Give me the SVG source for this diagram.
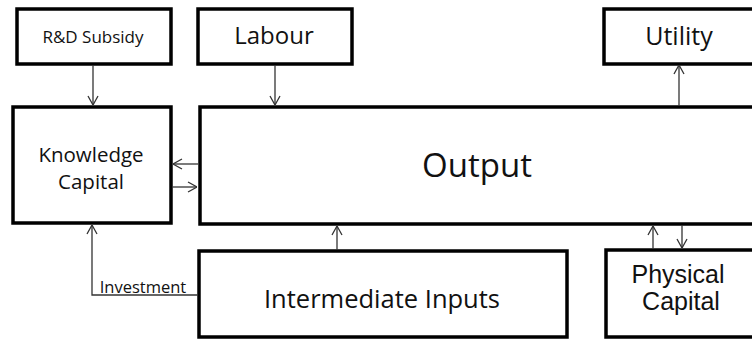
<svg xmlns="http://www.w3.org/2000/svg" width="752" height="340" viewBox="0 0 752 340">
<defs>
<style>
.box{fill:#fff;stroke:#000;stroke-width:3.5}
.t{font-family:"Open Sans","Liberation Sans",sans-serif;fill:#111;text-anchor:middle}
.t2{font-family:"Liberation Sans","Open Sans",sans-serif;fill:#111;text-anchor:middle}
.c{fill:none;stroke:#333;stroke-width:1.3}
</style>
<marker id="ah" viewBox="0 0 10 12" refX="10" refY="6" markerWidth="10" markerHeight="12" markerUnits="userSpaceOnUse" orient="auto">
<path d="M1,1 L10,6 L1,11" fill="none" stroke="#333" stroke-width="1.3"/>
</marker>
</defs>
<rect width="752" height="340" fill="#fff"/>
<g id="rd-subsidy"><rect class="box" x="17" y="9" width="154" height="55"/><text class="t" x="93" y="43" font-size="17">R&amp;D Subsidy</text></g>
<g id="labour"><rect class="box" x="198" y="9" width="154" height="55"/><text class="t" x="274" y="44" font-size="24">Labour</text></g>
<g id="utility"><rect class="box" x="604" y="9" width="160" height="55"/><text class="t" x="679" y="45" font-size="25">Utility</text></g>
<g id="knowledge-capital"><rect class="box" x="13" y="107" width="158" height="116"/><text class="t" font-size="20.5"><tspan x="91" y="162">Knowledge</tspan><tspan x="91" y="189">Capital</tspan></text></g>
<g id="output"><rect class="box" x="200" y="107" width="570" height="117"/><text class="t" x="477" y="177" font-size="33">Output</text></g>
<g id="intermediate-inputs"><rect class="box" x="199" y="251" width="368" height="86"/><text class="t" x="382" y="308" font-size="25.5">Intermediate Inputs</text></g>
<g id="physical-capital"><rect class="box" x="606" y="250" width="160" height="87"/><text class="t2" font-size="25"><tspan x="678" y="283">Physical</tspan><tspan x="681" y="310">Capital</tspan></text></g>
<g id="connectors">
<line class="c" x1="93" y1="65" x2="93" y2="105" marker-end="url(#ah)"/>
<line class="c" x1="275" y1="65" x2="275" y2="105" marker-end="url(#ah)"/>
<line class="c" x1="679" y1="106" x2="679" y2="65" marker-end="url(#ah)"/>
<line class="c" x1="198" y1="164" x2="173" y2="164" marker-end="url(#ah)"/>
<line class="c" x1="172" y1="187" x2="197" y2="187" marker-end="url(#ah)"/>
<line class="c" x1="337" y1="250" x2="337" y2="226" marker-end="url(#ah)"/>
<line class="c" x1="653" y1="249" x2="653" y2="226" marker-end="url(#ah)"/>
<line class="c" x1="682" y1="225" x2="682" y2="248" marker-end="url(#ah)"/>
<polyline class="c" points="198,295 92,295 92,225" marker-end="url(#ah)"/>
<text class="t" x="143" y="293" font-size="16.5">Investment</text>
</g>
</svg>
